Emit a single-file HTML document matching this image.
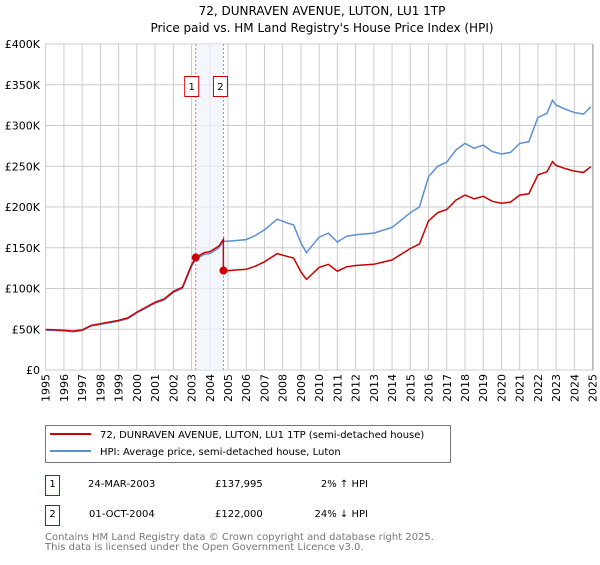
<!DOCTYPE html>
<html><head><meta charset="utf-8"><style>
body{margin:0;background:#fff;font-family:"Liberation Sans","DejaVu Sans",sans-serif;}
svg text{font-family:"DejaVu Sans","Liberation Sans",sans-serif;}
</style></head><body>
<svg id="chart" width="600" height="560" xmlns="http://www.w3.org/2000/svg">
<text x="322" y="15" text-anchor="middle" font-size="12">72, DUNRAVEN AVENUE, LUTON, LU1 1TP</text>
<text x="322" y="32" text-anchor="middle" font-size="12">Price paid vs. HM Land Registry's House Price Index (HPI)</text>
<g id="grid"></g><g id="band"></g><g id="lines"></g><g id="axes"></g>
<g>
<rect x="45.5" y="425.5" width="405" height="37" fill="#fff" stroke="#777" stroke-width="1"/>
<line x1="50" y1="434" x2="91" y2="434" stroke="#cc0000" stroke-width="2"/>
<text x="100" y="438" font-size="10">72, DUNRAVEN AVENUE, LUTON, LU1 1TP (semi-detached house)</text>
<line x1="50" y1="451" x2="91" y2="451" stroke="#5b8fd4" stroke-width="2"/>
<text x="100" y="455" font-size="10">HPI: Average price, semi-detached house, Luton</text>
</g>
<g font-size="10">
<rect x="45.5" y="475.5" width="14" height="20" fill="#fff" stroke="#cc0000"/><text x="52.5" y="487" text-anchor="middle">1</text>
<text x="88" y="487">24-MAR-2003</text><text x="215" y="487">£137,995</text><text x="368" y="487" text-anchor="end">2% ↑ HPI</text>
<rect x="45.5" y="505.5" width="14" height="20" fill="#fff" stroke="#cc0000"/><text x="52.5" y="517" text-anchor="middle">2</text>
<text x="89" y="517">01-OCT-2004</text><text x="215" y="517">£122,000</text><text x="368" y="517" text-anchor="end">24% ↓ HPI</text>
</g>
<text x="45" y="540" font-size="10" fill="#777">Contains HM Land Registry data © Crown copyright and database right 2025.</text>
<text x="45" y="550" font-size="10" fill="#777">This data is licensed under the Open Government Licence v3.0.</text>
</svg>
<script>
const hpiYears=[1995,1996,1996.5,1997,1997.5,1998,1999,1999.5,2000,2001,2001.5,2002,2002.5,2003,2003.23,2003.7,2004,2004.5,2004.75,2005,2006,2006.5,2007,2007.7,2008.3,2008.6,2009,2009.3,2010,2010.5,2011,2011.5,2012,2013,2014,2015,2015.5,2016,2016.5,2017,2017.5,2018,2018.5,2019,2019.5,2020,2020.5,2021,2021.5,2022,2022.5,2022.8,2023,2023.5,2024,2024.5,2024.9];
const hpiValues=[49,48,47,48.5,54,56,60,63,70,82,86,95,100,127,136,142,143,150,158,158,160,165,172,185,180,178,156,144,163,168,157,164,166,168,175,193,200,237,250,255,270,278,272,276,268,265,267,278,280,310,315,331,325,320,316,314,323];
const saleDates=[2003.23,2004.75];
const salePrices=[137995,122000];
const yTicks=[0,50,100,150,200,250,300,350,400];
const yTickLabels=["£0","£50K","£100K","£150K","£200K","£250K","£300K","£350K","£400K"];
const xTicks=[1995,1996,1997,1998,1999,2000,2001,2002,2003,2004,2005,2006,2007,2008,2009,2010,2011,2012,2013,2014,2015,2016,2017,2018,2019,2020,2021,2022,2023,2024,2025];
const NS="http://www.w3.org/2000/svg";
const X=y=>45.7+(y-1995)*18.23, Y=v=>370-v*0.815;
function mk(t,a,p){const e=document.createElementNS(NS,t);for(const k in a)e.setAttribute(k,a[k]);document.getElementById(p).appendChild(e);return e;}
function hpiAt(t){for(let i=1;i<hpiYears.length;i++){if(t<=hpiYears[i]){const f=(t-hpiYears[i-1])/(hpiYears[i]-hpiYears[i-1]);return hpiValues[i-1]+f*(hpiValues[i]-hpiValues[i-1]);}}return hpiValues[hpiValues.length-1];}
yTicks.forEach((v,i)=>{let l=mk('line',{x1:45,x2:593,y1:Y(v),y2:Y(v),stroke:'#ccc'},'grid');

let t=mk('text',{x:40,y:Y(v)+4,'text-anchor':'end','font-size':11},'axes');t.textContent=yTickLabels[i];
});
xTicks.forEach(v=>{let l=mk('line',{x1:X(v),x2:X(v),y1:44,y2:370,stroke:'#ccc'},'grid');

let t=mk('text',{x:X(v)+4,y:374,'text-anchor':'end','font-size':11,transform:`rotate(-90 ${X(v)+4} 374)`},'axes');t.textContent=v;
});
let b=mk('rect',{x:X(saleDates[0]),y:44,width:X(saleDates[1])-X(saleDates[0]),height:326,fill:'#eef3fc',opacity:0.7},'band');

saleDates.forEach((d,i)=>{let l=mk('line',{x1:X(d),x2:X(d),y1:44,y2:370,stroke:'#f07070','stroke-dasharray':'2,2'},'band');

let bx=X(d)+(i==0?-4:-3)-7;
let r=mk('rect',{x:bx,y:76.5,width:14,height:20,fill:'#fff',stroke:'#cc0000'},'band');

let t=mk('text',{x:bx+7,y:90,'text-anchor':'middle','font-size':10},'band');t.textContent=String(i+1);
});
let hp=hpiYears.map((y,i)=>(i?'L':'M')+X(y).toFixed(1)+','+Y(hpiValues[i]).toFixed(1)).join('');
let h=mk('path',{d:hp,fill:'none',stroke:'#5b8fd4','stroke-width':1.5},'lines');

let pts=[];const r0=salePrices[0]/1000/hpiAt(saleDates[0]),r1=salePrices[1]/1000/hpiAt(saleDates[1]);
hpiYears.forEach((y,i)=>{if(y<saleDates[1])pts.push([y,hpiValues[i]*r0]);});
pts.push([saleDates[1],hpiAt(saleDates[1])*r0]);pts.push([saleDates[1],salePrices[1]/1000]);
hpiYears.forEach((y,i)=>{if(y>saleDates[1])pts.push([y,hpiValues[i]*r1]);});
let p=mk('path',{d:pts.map((q,i)=>(i?'L':'M')+X(q[0]).toFixed(1)+','+Y(q[1]).toFixed(1)).join(''),fill:'none',stroke:'#cc0000','stroke-width':1.5},'lines');

saleDates.forEach((d,i)=>{let c=mk('circle',{cx:X(d),cy:Y(salePrices[i]/1000),r:4,fill:'#cc0000'},'lines');
});
let ax=mk('line',{x1:593,x2:593,y1:44,y2:370,stroke:'#999'},'axes');

</script>
</body></html>
